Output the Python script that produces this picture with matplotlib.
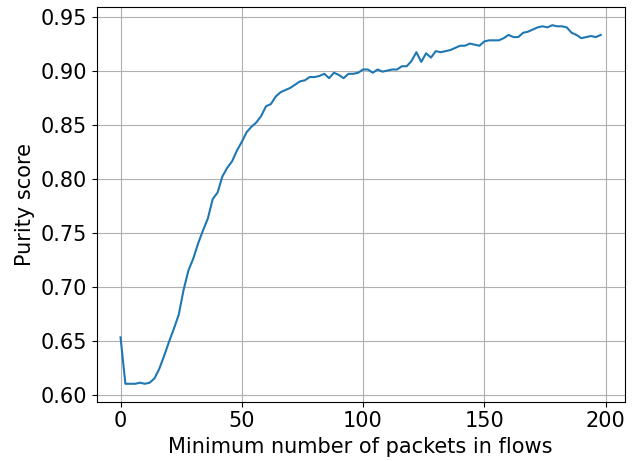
import matplotlib
matplotlib.use("Agg")
import matplotlib.pyplot as plt
from matplotlib.ticker import MultipleLocator

min_packets = list(range(0, 200, 2))
purity = [0.653, 0.610, 0.610, 0.610, 0.611, 0.610, 0.611, 0.615, 0.624, 0.636,
          0.649, 0.661, 0.674, 0.697, 0.715, 0.726, 0.740, 0.752, 0.763, 0.781,
          0.787, 0.802, 0.810, 0.816, 0.826, 0.834, 0.843, 0.848, 0.852, 0.858,
          0.867, 0.869, 0.876, 0.880, 0.882, 0.884, 0.887, 0.890, 0.891, 0.894,
          0.894, 0.895, 0.897, 0.893, 0.898, 0.896, 0.893, 0.897, 0.897, 0.898,
          0.901, 0.901, 0.898, 0.901, 0.899, 0.900, 0.901, 0.901, 0.904, 0.904,
          0.909, 0.917, 0.908, 0.916, 0.912, 0.918, 0.917, 0.918, 0.919, 0.921,
          0.923, 0.923, 0.925, 0.924, 0.923, 0.927, 0.928, 0.928, 0.928, 0.930,
          0.933, 0.931, 0.931, 0.935, 0.936, 0.938, 0.940, 0.941, 0.940, 0.942,
          0.941, 0.941, 0.940, 0.935, 0.933, 0.930, 0.931, 0.932, 0.931, 0.933]

plt.rcParams['font.size'] = 15
fig = plt.figure(figsize=(6.38, 4.61), dpi=100)
ax = fig.add_axes([0.1513, 0.1286, 0.9792 - 0.1513, 0.9842 - 0.1286])
ax.plot(min_packets, purity, color="#1f77b4")
ax.xaxis.set_major_locator(MultipleLocator(50))
ax.grid(True)
ax.set_xlabel("Minimum number of packets in flows")
ax.set_ylabel("Purity score")
fig.savefig("out.png", dpi=100)
